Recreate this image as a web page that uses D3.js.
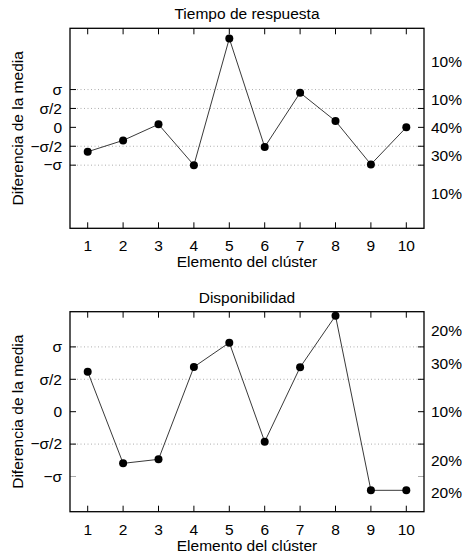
<!DOCTYPE html>
<html>
<head>
<meta charset="utf-8">
<script src="https://cdn.jsdelivr.net/npm/d3@7"></script>
<style>
  body { margin: 0; background: #fff; }
  svg text { font-family: "Liberation Sans", Arial, sans-serif; font-size: 15.5px; fill: #000; }
</style>
</head>
<body>
<div id="chart"></div>
<script>
// cluster elements (x axis)
var elements = [1, 2, 3, 4, 5, 6, 7, 8, 9, 10];

// y ticks in units of sigma
var sigmaTicks = [1, 0.5, 0, -0.5, -1];
var sigmaLabels = ["σ", "σ/2", "0", "−σ/2", "−σ"];

// panel 1: Tiempo de respuesta
var tiempoValues = [-0.645, -0.345, 0.08, -1.0, 2.35, -0.52, 0.915, 0.167, -0.98, 0.0];
var tiempoBandPos = [1.75, 0.75, 0, -0.75, -1.75];
var tiempoBandLabels = ["10%", "10%", "40%", "30%", "10%"];
var tiempoGrid = [1, 0.5, -0.5, -1];

// panel 2: Disponibilidad
var dispValues = [0.617, -0.797, -0.735, 0.69, 1.065, -0.463, 0.685, 1.48, -1.213, -1.213];
var dispBandPos = [1.25, 0.75, 0, -0.75, -1.25];
var dispBandLabels = ["20%", "30%", "10%", "20%", "20%"];
var dispGrid = [1, 0.5, -0.5];

var width = 462, height = 553;
var svg = d3.select("#chart").append("svg")
    .attr("width", width)
    .attr("height", height);

var left = 70, right = 424;
var x = d3.scaleLinear().domain([0.5, 10.5]).range([left, right]);

function drawPanel(opt) {
    var y = d3.scaleLinear().domain(opt.domain).range([opt.bottom, opt.top]);
    var g = svg.append("g");

    // dotted grid lines
    g.selectAll(".grid")
        .data(opt.grid)
        .enter().append("line")
        .attr("x1", left).attr("x2", right)
        .attr("y1", d => y(d)).attr("y2", d => y(d))
        .attr("stroke", "#999")
        .attr("stroke-width", 0.8)
        .attr("stroke-dasharray", "1,2.5");

    // y ticks, inward on both sides
    sigmaTicks.forEach(function (t) {
        var faint = opt.grid.indexOf(t) < 0 && t !== 0;
        var c = faint ? "#aaa" : "#000";
        g.append("line").attr("x1", left).attr("x2", left + 6)
            .attr("y1", y(t)).attr("y2", y(t)).attr("stroke", c).attr("stroke-width", 1);
        g.append("line").attr("x1", right).attr("x2", right - 6)
            .attr("y1", y(t)).attr("y2", y(t)).attr("stroke", c).attr("stroke-width", 1);
    });

    // x ticks, inward top and bottom
    elements.forEach(function (e) {
        g.append("line").attr("x1", x(e)).attr("x2", x(e))
            .attr("y1", opt.bottom).attr("y2", opt.bottom - 6).attr("stroke", "#000");
        g.append("line").attr("x1", x(e)).attr("x2", x(e))
            .attr("y1", opt.top).attr("y2", opt.top + 6).attr("stroke", "#000");
    });

    // y tick labels
    g.selectAll(".ylab")
        .data(sigmaTicks)
        .enter().append("text")
        .attr("x", 62)
        .attr("y", d => y(d))
        .attr("dy", "0.34em")
        .attr("text-anchor", "end")
        .text((d, i) => sigmaLabels[i]);

    // right-side band labels
    g.selectAll(".rlab")
        .data(opt.bandPos)
        .enter().append("text")
        .attr("x", 431)
        .attr("y", d => y(d))
        .attr("dy", "0.36em")
        .text((d, i) => opt.bandLabels[i]);

    // x tick labels
    g.selectAll(".xlab")
        .data(elements)
        .enter().append("text")
        .attr("x", d => x(d))
        .attr("y", opt.bottom + 23)
        .attr("text-anchor", "middle")
        .text(d => d);

    // titles
    g.append("text")
        .attr("x", 247).attr("y", opt.top - 9)
        .attr("text-anchor", "middle")
        .text(opt.title);

    g.append("text")
        .attr("x", 247).attr("y", opt.bottom + 39)
        .attr("text-anchor", "middle")
        .text("Elemento del clúster");

    g.append("text")
        .attr("transform", "translate(22.5," + ((opt.top + opt.bottom) / 2) + ") rotate(-90)")
        .attr("text-anchor", "middle")
        .text("Diferencia de la media");

    // line + points
    var line = d3.line()
        .x((d, i) => x(elements[i]))
        .y(d => y(d));

    g.append("path")
        .datum(opt.values)
        .attr("d", line)
        .attr("fill", "none")
        .attr("stroke", "#222")
        .attr("stroke-width", 0.9);

    g.selectAll(".pt")
        .data(opt.values)
        .enter().append("circle")
        .attr("cx", (d, i) => x(elements[i]))
        .attr("cy", d => y(d))
        .attr("r", 4)
        .attr("fill", "#000");

    // frame
    g.append("rect")
        .attr("x", left).attr("y", opt.top)
        .attr("width", right - left).attr("height", opt.bottom - opt.top)
        .attr("fill", "none")
        .attr("stroke", "#000")
        .attr("stroke-width", 1.3);
}

drawPanel({
    title: "Tiempo de respuesta",
    top: 28.3, bottom: 228.3,
    domain: [-2.67, 2.62],
    values: tiempoValues,
    grid: tiempoGrid,
    bandPos: tiempoBandPos,
    bandLabels: tiempoBandLabels
});

drawPanel({
    title: "Disponibilidad",
    top: 311.7, bottom: 511.7,
    domain: [-1.543, 1.543],
    values: dispValues,
    grid: dispGrid,
    bandPos: dispBandPos,
    bandLabels: dispBandLabels
});
</script>
</body>
</html>
